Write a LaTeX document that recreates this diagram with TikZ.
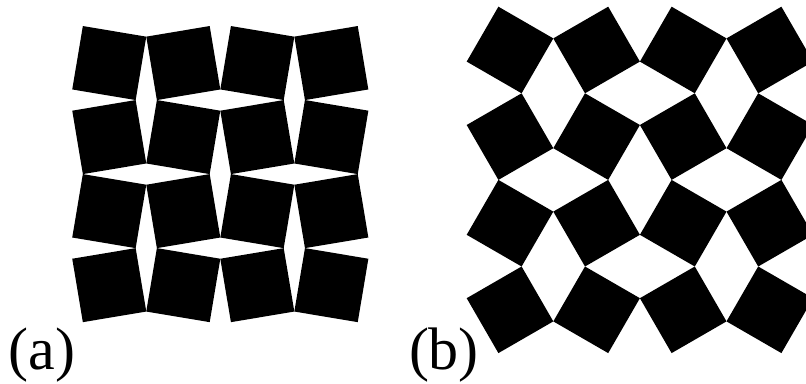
\documentclass[tikz,border=0pt]{standalone}
\usepackage{fontspec}
\setmainfont{Liberation Serif}
\newcommand\tilegrid[5]{%
  \foreach \i in {1,...,4}{%
    \foreach \j in {1,...,4}{%
      \pgfmathsetmacro\tang{#5*(2*mod(\i+\j,2)-1)}%
      \pgfmathsetmacro\tpx{#1+(\j-2.5)*#3}%
      \pgfmathsetmacro\tpy{#2+(2.5-\i)*#3}%
      \fill[tile, shift={(\tpx,\tpy)}, rotate=\tang]
        (-#4/2,-#4/2) -- (#4/2,-#4/2) -- (#4/2,#4/2) -- (-#4/2,#4/2) -- cycle;
    }%
  }%
}
\begin{document}
\begin{tikzpicture}[x=1pt,y=1pt,
  tile/.style={fill=black},
  lbl/.style={anchor=base west, inner sep=0pt, font=\fontsize{60}{64}\selectfont}]
\useasboundingbox (0,0) rectangle (806,383);
\clip (0,0) rectangle (806,383);
% (a): small rotation
\tilegrid{220.3}{208.9}{74.03}{64.3}{9.5}
% (b): 30 degree rotation
\tilegrid{639.9}{203.1}{86.6}{63.4}{30}
\node[lbl] (la) at (8.8,13.5) {(a)};
\node[lbl] (lb) at (408.8,13.5) {(b)};
\end{tikzpicture}
\end{document}
